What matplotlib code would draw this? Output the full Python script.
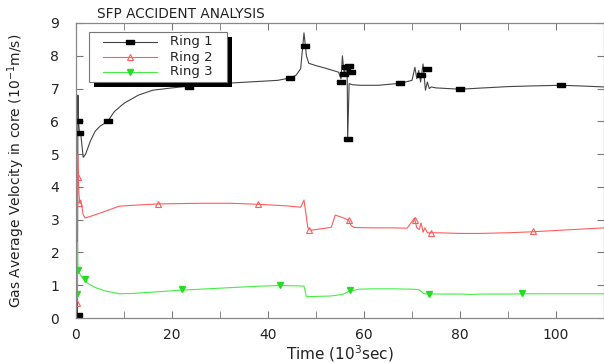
import matplotlib
matplotlib.use("Agg")
import matplotlib.pyplot as plt
from matplotlib.ticker import MultipleLocator
from matplotlib.patches import Rectangle
from matplotlib.lines import Line2D

# ---------------- data ----------------
ring1_t = [0.0, 0.3, 0.4, 0.5, 0.7, 1.0, 1.5, 2.0, 3, 4, 5, 6.6, 8, 10, 13, 16, 20, 24, 30, 36, 42,
           44.5, 45.8, 46.8, 47.5, 48.0, 48.5, 50, 52, 54.7, 55.2, 55.5, 55.9, 56.2, 56.5, 56.6, 56.9,
           57.5, 59, 63, 67.5, 70, 70.6, 71.0, 71.4, 71.8, 72.3, 72.8, 73.2, 73.6, 74.0, 75, 77.5, 80,
           85, 90, 95, 101, 105, 110]
ring1_v = [0.1, 0.1, 6.8, 6.0, 5.7, 5.6, 4.9, 5.0, 5.4, 5.7, 5.85, 6.0, 6.3, 6.55, 6.8, 6.95, 7.02,
           7.08, 7.15, 7.2, 7.25,
           7.32, 7.4, 7.6, 8.7, 8.0, 7.77, 7.7, 7.62, 7.5, 7.3, 8.0, 7.4, 7.7, 7.5, 5.45, 7.15,
           7.12, 7.1, 7.1, 7.16, 7.25, 7.65, 7.3, 7.55, 7.2, 7.75, 6.95, 7.2, 7.0, 7.05, 7.02, 7.0, 6.98,
           7.02, 7.06, 7.08, 7.1, 7.08, 7.05]

ring2_t = [0.0, 0.2, 0.35, 0.5, 0.6, 0.8, 1.0, 1.5, 1.9, 3, 5, 9, 12, 17, 26, 32, 38, 44, 46.8,
           47.5, 48.3, 49.0, 50, 52, 53.2, 54.0, 55.8, 56.8, 57.2, 57.5, 58, 62, 66, 69, 70.5, 71.0,
           71.5, 71.9, 72.3, 72.7, 73.2, 74, 75.5, 80, 84, 90, 95, 100, 105, 110]
ring2_v = [0.5, 0.5, 5.0, 4.3, 3.8, 3.5, 3.6, 3.15, 3.05, 3.1, 3.2, 3.41, 3.44, 3.48, 3.5, 3.5, 3.47,
           3.42, 3.38,
           3.6, 2.75, 2.68, 2.7, 2.74, 2.77, 3.14, 3.05, 2.98, 2.85, 2.8, 2.76, 2.75, 2.75, 2.74, 3.05,
           2.75, 2.7, 2.9, 2.62, 2.75, 2.6, 2.6, 2.6, 2.58, 2.58, 2.6, 2.63, 2.67, 2.71, 2.75]

ring3_t = [0.0, 0.2, 0.3, 0.4, 0.5, 0.8, 1.2, 1.8, 2.5, 4, 6, 9, 12, 16, 22, 30, 38, 42.5, 46.5,
           47.5, 48.0, 50, 53, 55.5, 57, 59, 62, 66, 70, 71.5, 72.5, 76, 80, 82, 85, 90, 95, 100,
           105, 110]
ring3_v = [0.0, 0.7, 2.3, 1.46, 1.4, 1.35, 1.25, 1.16, 1.05, 0.93, 0.83, 0.74, 0.75, 0.79, 0.85,
           0.91, 0.97, 0.99, 0.98,
           0.97, 0.65, 0.66, 0.67, 0.72, 0.82, 0.88, 0.89, 0.89, 0.88, 0.86, 0.74, 0.73, 0.73, 0.72,
           0.73, 0.73, 0.74, 0.74, 0.74, 0.74]

ring1_mark_t = [0.5, 0.5, 0.6, 6.6, 23.5, 44.5, 47.8, 55.3, 55.8, 56.3, 56.8, 57.3, 56.6, 67.5,
                71.8, 73.2, 80, 101]
ring1_mark_v = [0.1, 6.0, 5.65, 6.0, 7.05, 7.32, 8.3, 7.2, 7.45, 7.65, 7.7, 7.5, 5.45, 7.16,
                7.4, 7.6, 6.98, 7.1]
ring2_mark_t = [0.3, 0.5, 0.7, 17, 38, 48.5, 56.8, 70.7, 74, 95.2]
ring2_mark_v = [0.45, 4.3, 3.5, 3.48, 3.47, 2.68, 2.98, 2.98, 2.6, 2.64]
ring3_mark_t = [0.3, 0.5, 1.8, 22, 42.5, 57, 73.5, 93]
ring3_mark_v = [0.72, 1.46, 1.18, 0.88, 1.0, 0.85, 0.74, 0.76]

labels = ["Ring 1", "Ring 2", "Ring 3"]
xticks = [0, 20, 40, 60, 80, 100]
yticks = [0, 1, 2, 3, 4, 5, 6, 7, 8, 9]

# ---------------- plot ----------------
W, H = 604, 363
fig = plt.figure(figsize=(W / 100, H / 100), dpi=100)
AX_L, AX_B, AX_W, AX_H = 76, 318, 528, 295
ax = fig.add_axes([AX_L / W, 1 - AX_B / H, AX_W / W, AX_H / H])

c1, c2, c3 = "#444444", "#ff5c5c", "#44ee44"
m3 = "#22dd22"
rect = [(-1.6, -1), (1.6, -1), (1.6, 1), (-1.6, 1), (-1.6, -1)]

ax.plot(ring1_t, ring1_v, color=c1, lw=0.8)
ax.plot(ring2_t, ring2_v, color=c2, lw=0.8)
ax.plot(ring3_t, ring3_v, color=c3, lw=0.8)
ax.plot(ring1_mark_t, ring1_mark_v, ls="none", marker=rect, ms=5.6, color="black")
ax.plot(ring2_mark_t, ring2_mark_v, ls="none", marker="^", ms=5, mfc="none", mec=c2, mew=0.8)
ax.plot(ring3_mark_t, ring3_mark_v, ls="none", marker="v", ms=5, color=m3)


# manual legend (pixel layout -> axes fraction)
def fx(px):
    return (px - AX_L) / AX_W


def fy(py):
    return (AX_B - py) / AX_H


ax.add_patch(Rectangle((fx(94), fy(87)), fx(232) - fx(94), fy(37) - fy(87),
                       transform=ax.transAxes, facecolor="black", edgecolor="none",
                       zorder=5, clip_on=False))
ax.add_patch(Rectangle((fx(89), fy(82)), fx(227) - fx(89), fy(32) - fy(82),
                       transform=ax.transAxes, facecolor="white", edgecolor="#777777",
                       lw=0.8, zorder=6, clip_on=False))
styles = [dict(color=c1, marker=rect, ms=5.6, mfc="black", mec="black"),
          dict(color=c2, marker="^", ms=5, mfc="none", mec=c2, mew=0.8),
          dict(color=c3, marker="v", ms=5, mfc=m3, mec=m3)]
rows = [42, 57, 72]
for lab, st, ry in zip(labels, styles, rows):
    ax.add_line(Line2D([fx(103), fx(157)], [fy(ry), fy(ry)], transform=ax.transAxes,
                       lw=0.8, zorder=7, clip_on=False, markevery=[], **st))
    ax.add_line(Line2D([fx(130)], [fy(ry)], transform=ax.transAxes, ls="none",
                       zorder=8, clip_on=False, **st))
    ax.text(fx(170), fy(ry), lab, transform=ax.transAxes, fontsize=9.5, color="#222222",
            va="center", ha="left", zorder=8)

ax.set_xlim(0, 110)
ax.set_ylim(0, 9)
ax.set_xticks(xticks)
ax.set_yticks(yticks)
ax.xaxis.set_minor_locator(MultipleLocator(10))
ax.tick_params(which="both", direction="in", top=True, right=True, length=5,
               color="#777777", labelsize=10, labelcolor="#222222")
ax.tick_params(axis="y", pad=12)
ax.tick_params(axis="x", pad=7)
for s in ax.spines.values():
    s.set_color("#888888")
    s.set_linewidth(0.9)

ax.set_xlabel("Time (10$^3$sec)", fontsize=11, color="#222222", labelpad=1)
ax.set_ylabel("Gas Average Velocity in core (10$^{-1}$m/s)", fontsize=10, color="#222222",
              labelpad=17)
ax.text(97 / W, 1 - 14 / H, "SFP ACCIDENT ANALYSIS", transform=fig.transFigure,
        fontsize=9.8, color="#222222", va="center", ha="left")

fig.savefig("out.png", dpi=100)
